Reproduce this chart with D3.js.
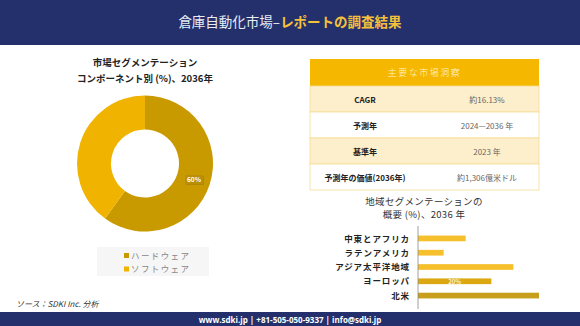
<!DOCTYPE html>
<html><head><meta charset="utf-8">
<script src="https://cdn.jsdelivr.net/npm/d3@7"></script>
<style>
html,body{margin:0;padding:0;background:#fff;}
svg{display:block;font-family:"Noto Sans CJK JP","Noto Sans",sans-serif;}
</style></head>
<body>
<svg id="c" width="580" height="326"></svg>
<script>
// ---- data ----
const titleWhite = "倉庫自動化市場–";
const titleYellow = "レポートの調査結果";
const donutTitle = ["市場セグメンテーション", "コンポーネント別 (%)、2036年"];
const componentLabels = ["ハードウェア", "ソフトウェア"];
const componentValues = [60, 40];
const componentColors = ["#C99A00", "#F0B400"];
const tableHeader = "主要な市場洞察";
const tableKeys = ["CAGR", "予測年", "基準年", "予測年の価値(2036年)"];
const tableValues = ["約16.13%", "2024—2036 年", "2023 年", "約1,306億米ドル"];
const barTitle = ["地域セグメンテーションの", "概要 (%)、2036 年"];
const regions = ["中東とアフリカ", "ラテンアメリカ", "アジア太平洋地域", "ヨーロッパ", "北米"];
const regionValues = [13, 7, 26, 20, 33];
const regionColors = ["#F6BF2C", "#F6BF2C", "#F6BF2C", "#DBA812", "#C89F1C"];
const regionLabels = ["", "", "", "20%", ""];
const sourceText = "ソース：SDKI Inc. 分析";
const footerText = "www.sdki.jp | +81-505-050-9337 | info@sdki.jp";

const svg = d3.select("#c");
const navy = "#24306C";

// header
svg.append("rect").attr("x",0).attr("y",0).attr("width",580).attr("height",45).attr("fill",navy);
const ht = svg.append("text").attr("x",290).attr("y",27).attr("text-anchor","middle").attr("font-size",13.5);
ht.append("tspan").attr("fill","#E8ECF5").text(titleWhite);
ht.append("tspan").attr("fill","#F5C03A").attr("font-weight","bold").text(titleYellow);

// footer
svg.append("rect").attr("x",0).attr("y",312).attr("width",580).attr("height",14).attr("fill",navy);
svg.append("text").attr("x",290).attr("y",322.5).attr("text-anchor","middle").attr("font-size",8)
  .attr("font-weight","bold").attr("fill","#fff").attr("font-family","'Open Sans',sans-serif").text(footerText);

// source
svg.append("text").attr("x",16).attr("y",307).attr("font-size",8).attr("font-style","italic")
  .attr("fill","#333").text(sourceText);

// donut titles
donutTitle.forEach((t,i)=>{
  svg.append("text").attr("x",145).attr("y",66+i*16).attr("text-anchor","middle")
    .attr("font-size",9.5).attr("font-weight","bold").attr("fill","#222").text(t);
});

// donut
const pie = d3.pie().sort(null).value(d=>d)(componentValues);
const arc = d3.arc().innerRadius(34).outerRadius(68);
const g = svg.append("g").attr("transform","translate(145,163.5)");
g.selectAll("path").data(pie).join("path").attr("d",arc).attr("fill",(d,i)=>componentColors[i]);
// label for the hardware slice
{
  const lg = g.append("g").attr("transform","translate(49,17)");
  lg.append("rect").attr("x",-8).attr("y",-4.5).attr("width",18).attr("height",9).attr("fill","#000").attr("opacity",0.12);
  lg.append("rect").attr("x",-9).attr("y",-5.5).attr("width",18).attr("height",9).attr("fill","#B98E08");
  lg.append("text").attr("x",0).attr("y",1.8).attr("text-anchor","middle").attr("font-size",6.5)
    .attr("font-weight","bold").attr("fill","#fff").text(componentValues[0]+"%");
}

// legend
svg.append("rect").attr("x",97).attr("y",247).attr("width",112).attr("height",29).attr("fill","#F6F6F6");
componentLabels.forEach((t,i)=>{
  const yy = 256 + i*13.5;
  svg.append("rect").attr("x",124).attr("y",yy-3).attr("width",5).attr("height",5).attr("fill",componentColors[i]);
  svg.append("text").attr("x",131).attr("y",yy+2.5).attr("font-size",8.5).attr("fill","#888")
    .attr("letter-spacing",1.4).text(t);
});

// table
const tx0 = 310, tx1 = 539, hy0 = 59, hh = 27, rh = 26;
svg.append("rect").attr("x",tx0).attr("y",hy0).attr("width",tx1-tx0).attr("height",hh).attr("fill","#F6B700");
svg.append("text").attr("x",(tx0+tx1)/2).attr("y",hy0+17).attr("text-anchor","middle").attr("font-size",9)
  .attr("font-weight",300).attr("fill","#FFF6DC").attr("letter-spacing",1.5).text(tableHeader);
tableKeys.forEach((k,i)=>{
  const yy = hy0+hh+i*rh;
  svg.append("rect").attr("x",tx0).attr("y",yy).attr("width",tx1-tx0).attr("height",rh)
    .attr("fill", i%2===0 ? "#FDEFCB" : "#FFFFFF").attr("stroke","#F6DC95").attr("stroke-width",0.8);
  svg.append("text").attr("x",365).attr("y",yy+16.5).attr("text-anchor","middle").attr("font-size",8)
    .attr("font-weight","bold").attr("fill","#222").text(k);
  svg.append("text").attr("x",487).attr("y",yy+16.5).attr("text-anchor","middle").attr("font-size",8)
    .attr("fill","#666").text(tableValues[i]);
});

// bar chart title
barTitle.forEach((t,i)=>{
  svg.append("text").attr("x",424).attr("y",205+i*13).attr("text-anchor","middle")
    .attr("font-size",9.5).attr("fill","#333").attr("letter-spacing",0.3).text(t);
});

// bar chart
const y = d3.scaleBand().domain(regions).range([227,307]).padding(0.6);
const x = d3.scaleLinear().domain([0, d3.max(regionValues)]).range([418,539]);
svg.selectAll("rect.bar").data(regions).join("rect").attr("class","bar")
  .attr("x",x(0)).attr("y",d=>y(d)).attr("height",y.bandwidth())
  .attr("width",(d,i)=>x(regionValues[i])-x(0)).attr("fill",(d,i)=>regionColors[i]);
svg.append("line").attr("x1",418).attr("x2",418).attr("y1",226).attr("y2",309)
  .attr("stroke","#888").attr("stroke-width",0.8);
regions.forEach((r,i)=>{
  svg.append("text").attr("x",410).attr("y",y(r)+y.bandwidth()/2+3.2).attr("text-anchor","end")
    .attr("font-size",8.5).attr("font-weight","bold").attr("fill","#222").attr("letter-spacing",0.9).text(r);
  if(regionLabels[i]){
    svg.append("text").attr("x",(x(0)+x(regionValues[i]))/2).attr("y",y(r)+y.bandwidth()/2+2.3)
      .attr("text-anchor","middle").attr("font-size",6).attr("font-weight","bold").attr("fill","#FBF0C8").text(regionLabels[i]);
  }
});
</script>
</body></html>
